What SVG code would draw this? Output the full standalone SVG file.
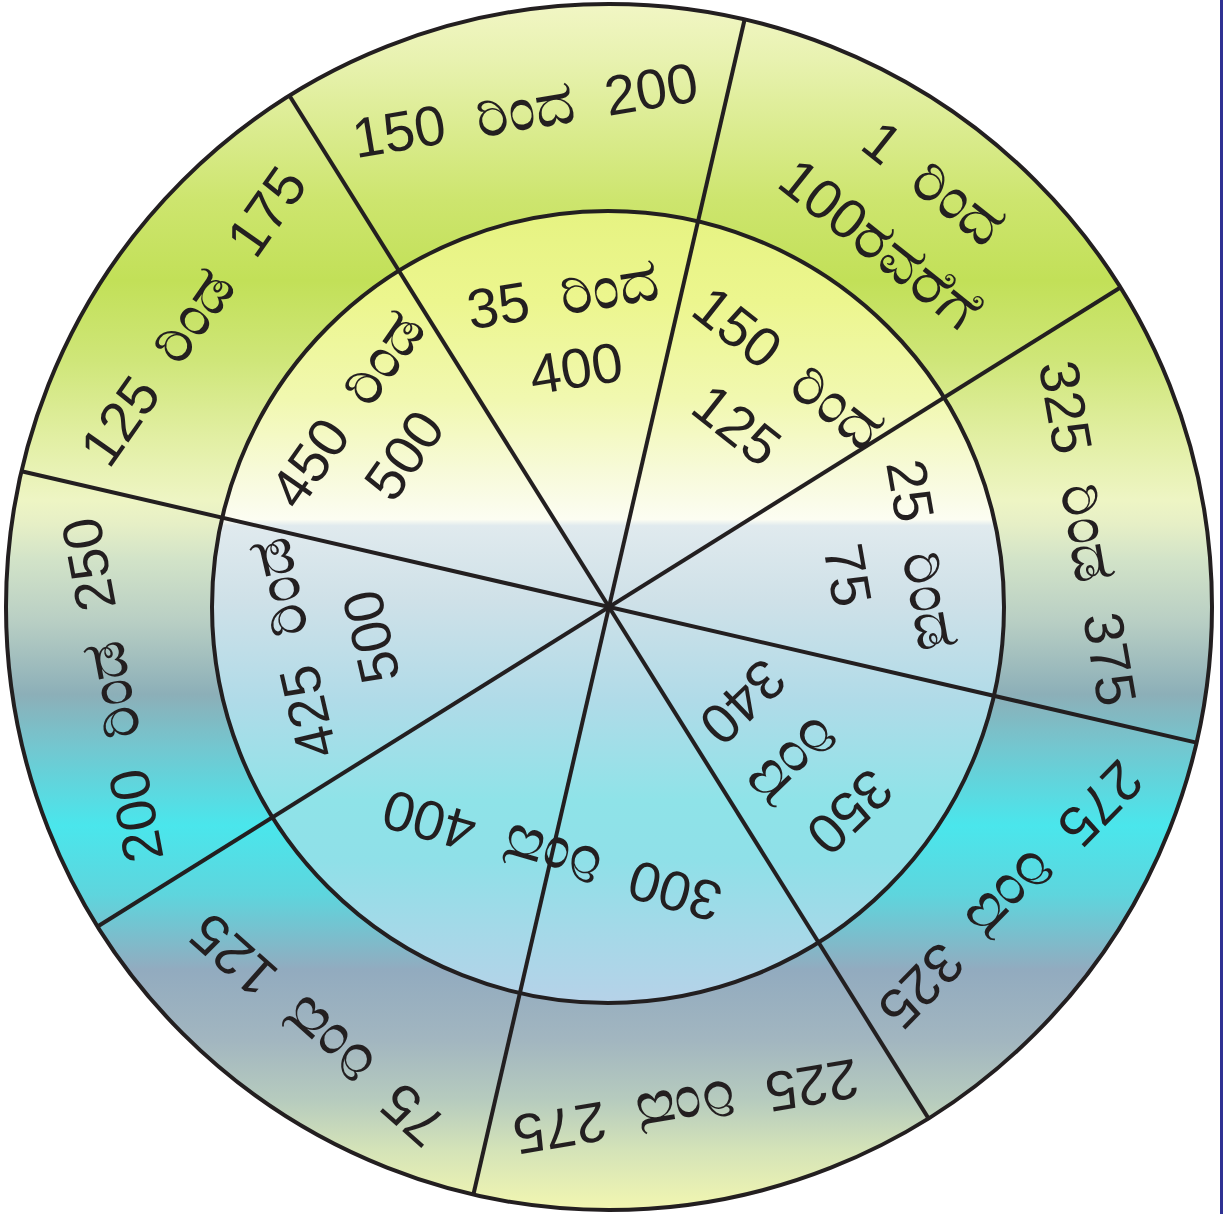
<svg xmlns="http://www.w3.org/2000/svg" width="1224" height="1214" viewBox="0 0 1224 1214">
<style>
.t{font-family:"Liberation Sans","Noto Sans",sans-serif;font-size:56px;fill:#231f20;text-anchor:middle}
.k{font-size:62px}
.ln{stroke:#231f20;stroke-width:4;fill:none}
</style>
<defs>
<linearGradient id="og" gradientUnits="userSpaceOnUse" x1="0" y1="0" x2="0" y2="1214">
<stop offset="0" stop-color="#f2f6c6"/>
<stop offset="0.049" stop-color="#e8f2b0"/>
<stop offset="0.165" stop-color="#cde56e"/>
<stop offset="0.231" stop-color="#c2e058"/>
<stop offset="0.297" stop-color="#cfe679"/>
<stop offset="0.362" stop-color="#e2efa4"/>
<stop offset="0.412" stop-color="#eef5c4"/>
<stop offset="0.432" stop-color="#e6efc6"/>
<stop offset="0.461" stop-color="#d2e3c8"/>
<stop offset="0.511" stop-color="#b9cfc4"/>
<stop offset="0.572" stop-color="#8cafb8"/>
<stop offset="0.614" stop-color="#74c6cf"/>
<stop offset="0.680" stop-color="#4ae6ec"/>
<stop offset="0.737" stop-color="#5ed5dd"/>
<stop offset="0.799" stop-color="#92abbf"/>
<stop offset="0.857" stop-color="#a2b6c0"/>
<stop offset="0.906" stop-color="#b6cbbe"/>
<stop offset="0.947" stop-color="#d4e3b8"/>
<stop offset="1" stop-color="#f4f8b0"/>
</linearGradient>
<linearGradient id="ig" gradientUnits="userSpaceOnUse" x1="0" y1="0" x2="0" y2="1214">
<stop offset="0.174" stop-color="#e6f382"/>
<stop offset="0.247" stop-color="#ecf68e"/>
<stop offset="0.329" stop-color="#f1f8b0"/>
<stop offset="0.387" stop-color="#f7fad8"/>
<stop offset="0.428" stop-color="#fcfdf2"/>
<stop offset="0.433" stop-color="#e0eaee"/>
<stop offset="0.494" stop-color="#cfe1e8"/>
<stop offset="0.577" stop-color="#b0dbe8"/>
<stop offset="0.659" stop-color="#8fe3e8"/>
<stop offset="0.708" stop-color="#8fe0e8"/>
<stop offset="0.766" stop-color="#a4d9e8"/>
<stop offset="0.826" stop-color="#b6d2e8"/>
</linearGradient>
</defs>
<rect x="0" y="0" width="1224" height="1214" fill="#ffffff"/>
<rect x="1220" y="0" width="3" height="1214" fill="#2e3192"/>
<g id="outer-ring"><circle cx="609" cy="607" r="603" fill="url(#og)"/></g>
<g id="inner-disk"><circle cx="608" cy="607" r="396" fill="url(#ig)"/></g>
<g id="connectors">
<line class="ln" x1="744.6" y1="19.5" x2="473.4" y2="1194.5"/>
<line class="ln" x1="1120.4" y1="287.5" x2="97.6" y2="926.5"/>
<line class="ln" x1="1196.5" y1="742.6" x2="21.5" y2="471.3"/>
<line class="ln" x1="928.5" y1="1118.4" x2="289.5" y2="95.7"/>
<circle class="ln" cx="608" cy="607" r="396"/>
<circle class="ln" cx="609" cy="607" r="603"/>
</g>
<g id="o1"><text class="t" dy="0.35em" transform="translate(525 110) rotate(-9.5)">150&#160; <tspan class="k">ರಿಂದ</tspan>&#160; 200</text></g>
<g id="o2"><text class="t" dy="0.35em" transform="translate(934 183) rotate(38.5)">1&#160; <tspan class="k">ರಿಂದ</tspan></text><text class="t" dy="0.35em" transform="translate(880 244) rotate(38.5)">100<tspan class="k">ರವರೆಗೆ</tspan></text></g>
<g id="o3"><text class="t" dy="0.35em" transform="translate(1088 533) rotate(80)">325&#160; <tspan class="k">ರಿಂಡ</tspan>&#160; 375</text></g>
<g id="o4"><text class="t" dy="0.35em" transform="translate(1011 895) rotate(134.5)">275&#160; <tspan class="k">ರಿಂದ</tspan>&#160; 325</text></g>
<g id="o5"><text class="t" dy="0.35em" transform="translate(686 1107) rotate(170.4)">225&#160; <tspan class="k">ರಿಂದ</tspan>&#160; 275</text></g>
<g id="o6"><text class="t" dy="0.35em" transform="translate(317 1030) rotate(221.6)">75&#160; <tspan class="k">ರಿಂದ</tspan>&#160; 125</text></g>
<g id="o7"><text class="t" dy="0.35em" transform="translate(112 690) rotate(259.3)">200&#160; <tspan class="k">ರಿಂಡ</tspan>&#160; 250</text></g>
<g id="o8"><text class="t" dy="0.35em" transform="translate(193 316) rotate(305)">125&#160; <tspan class="k">ರಿಂಡ</tspan>&#160; 175</text></g>
<g id="i1"><text class="t" dy="0.35em" transform="translate(563 295) rotate(-9)">35&#160; <tspan class="k">ರಿಂದ</tspan></text><text class="t" dy="0.35em" transform="translate(576 368) rotate(-9)">400</text></g>
<g id="i2"><text class="t" dy="0.35em" transform="translate(789 368) rotate(38.4)">150&#160; <tspan class="k">ರಿಂದ</tspan></text><text class="t" dy="0.35em" transform="translate(737 425) rotate(38.4)">125</text></g>
<g id="i3"><text class="t" dy="0.35em" transform="translate(922 555) rotate(80)">25&#160; <tspan class="k">ರಿಂಡ</tspan></text><text class="t" dy="0.35em" transform="translate(848 575) rotate(80)">75</text></g>
<g id="i4"><text class="t" dy="0.35em" transform="translate(850 812) rotate(136)">350</text><text class="t" dy="0.35em" transform="translate(794 762) rotate(136)"><tspan class="k">ರಿಂದ</tspan></text><text class="t" dy="0.35em" transform="translate(743 702) rotate(136)">340</text></g>
<g id="i5"><text class="t" dy="0.35em" transform="translate(552 856) rotate(196)">300&#160; <tspan class="k">ರಿಂದ</tspan>&#160; 400</text></g>
<g id="i7"><text class="t" dy="0.35em" transform="translate(293 648) rotate(257)">425&#160; <tspan class="k">ರಿಂಡ</tspan></text><text class="t" dy="0.35em" transform="translate(371 637) rotate(257)">500</text></g>
<g id="i8"><text class="t" dy="0.35em" transform="translate(347 409) rotate(305)">450&#160; <tspan class="k">ರಿಂಡ</tspan></text><text class="t" dy="0.35em" transform="translate(404 455) rotate(305)">500</text></g>
</svg>
